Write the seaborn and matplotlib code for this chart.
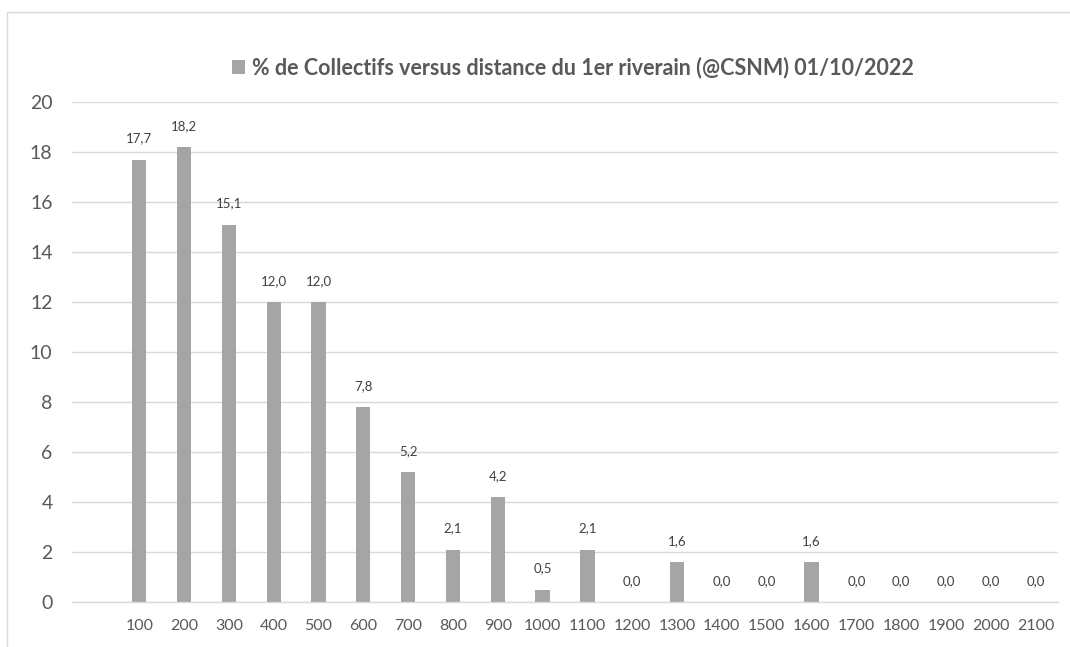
import matplotlib
matplotlib.use("Agg")
import matplotlib.pyplot as plt
import seaborn as sns
import pandas as pd
from matplotlib.patches import Patch, Rectangle

categories = ["100", "200", "300", "400", "500", "600", "700", "800", "900", "1000",
              "1100", "1200", "1300", "1400", "1500", "1600", "1700", "1800", "1900",
              "2000", "2100"]
values = [17.7, 18.2, 15.1, 12.0, 12.0, 7.8, 5.2, 2.1, 4.2, 0.5,
          2.1, 0.0, 1.6, 0.0, 0.0, 1.6, 0.0, 0.0, 0.0, 0.0, 0.0]
series_name = "% de Collectifs versus distance du 1er riverain (@CSNM) 01/10/2022"
yticks = [0, 2, 4, 6, 8, 10, 12, 14, 16, 18, 20]

BAR = "#A5A5A5"
GRID = "#D9D9D9"
TXT = "#595959"
FONT = ["Lato", "DejaVu Sans"]

sns.set_theme(style="white")
plt.rcParams["font.family"] = FONT

df = pd.DataFrame({"cat": categories, "val": values})

fig = plt.figure(figsize=(10.70, 6.47), dpi=100)
W, H = 1070, 647
ax = fig.add_axes([72 / W, (H - 602) / H, (1058 - 72) / W, 500 / H])

# outer chart frame
fig.patches.append(Rectangle((7 / W, -0.05), 1.2, (H - 12) / H + 0.05,
                             transform=fig.transFigure, fill=False,
                             edgecolor=GRID, linewidth=1.0))

sns.barplot(data=df, x="cat", y="val", color=BAR, width=0.32, ax=ax,
            saturation=1, edgecolor="none", order=categories)

ax.set_xlim(-1.5, 20.5)
ax.set_ylim(0, 20)
ax.set_yticks(yticks)
ax.set_yticklabels([str(v) for v in yticks])
ax.grid(axis="y", color=GRID, linewidth=1.0)
ax.set_axisbelow(True)
for s in ["top", "right", "left"]:
    ax.spines[s].set_visible(False)
ax.spines["bottom"].set_color(GRID)
ax.spines["bottom"].set_linewidth(1.0)
ax.set_xlabel("")
ax.set_ylabel("")
ax.tick_params(axis="y", length=0, pad=14, labelsize=14, labelcolor=TXT)
ax.tick_params(axis="x", length=0, pad=12, labelsize=11.5, labelcolor=TXT)

for i, v in enumerate(values):
    ax.annotate(f"{v:.1f}".replace(".", ","), xy=(i, v), xytext=(0, 15),
                textcoords="offset pixels", ha="center", va="bottom",
                fontsize=9.5, color="#404040")

ax.legend(handles=[Patch(facecolor=BAR, edgecolor="none", label=series_name)],
          loc="center", bbox_to_anchor=((573 - 72) / 986, 1.068), frameon=False,
          handlelength=0.6, handleheight=0.6, handletextpad=0.3,
          prop={"weight": "bold", "size": 15.5, "family": FONT},
          labelcolor=TXT)

fig.savefig("out.png", dpi=100, facecolor="white")
